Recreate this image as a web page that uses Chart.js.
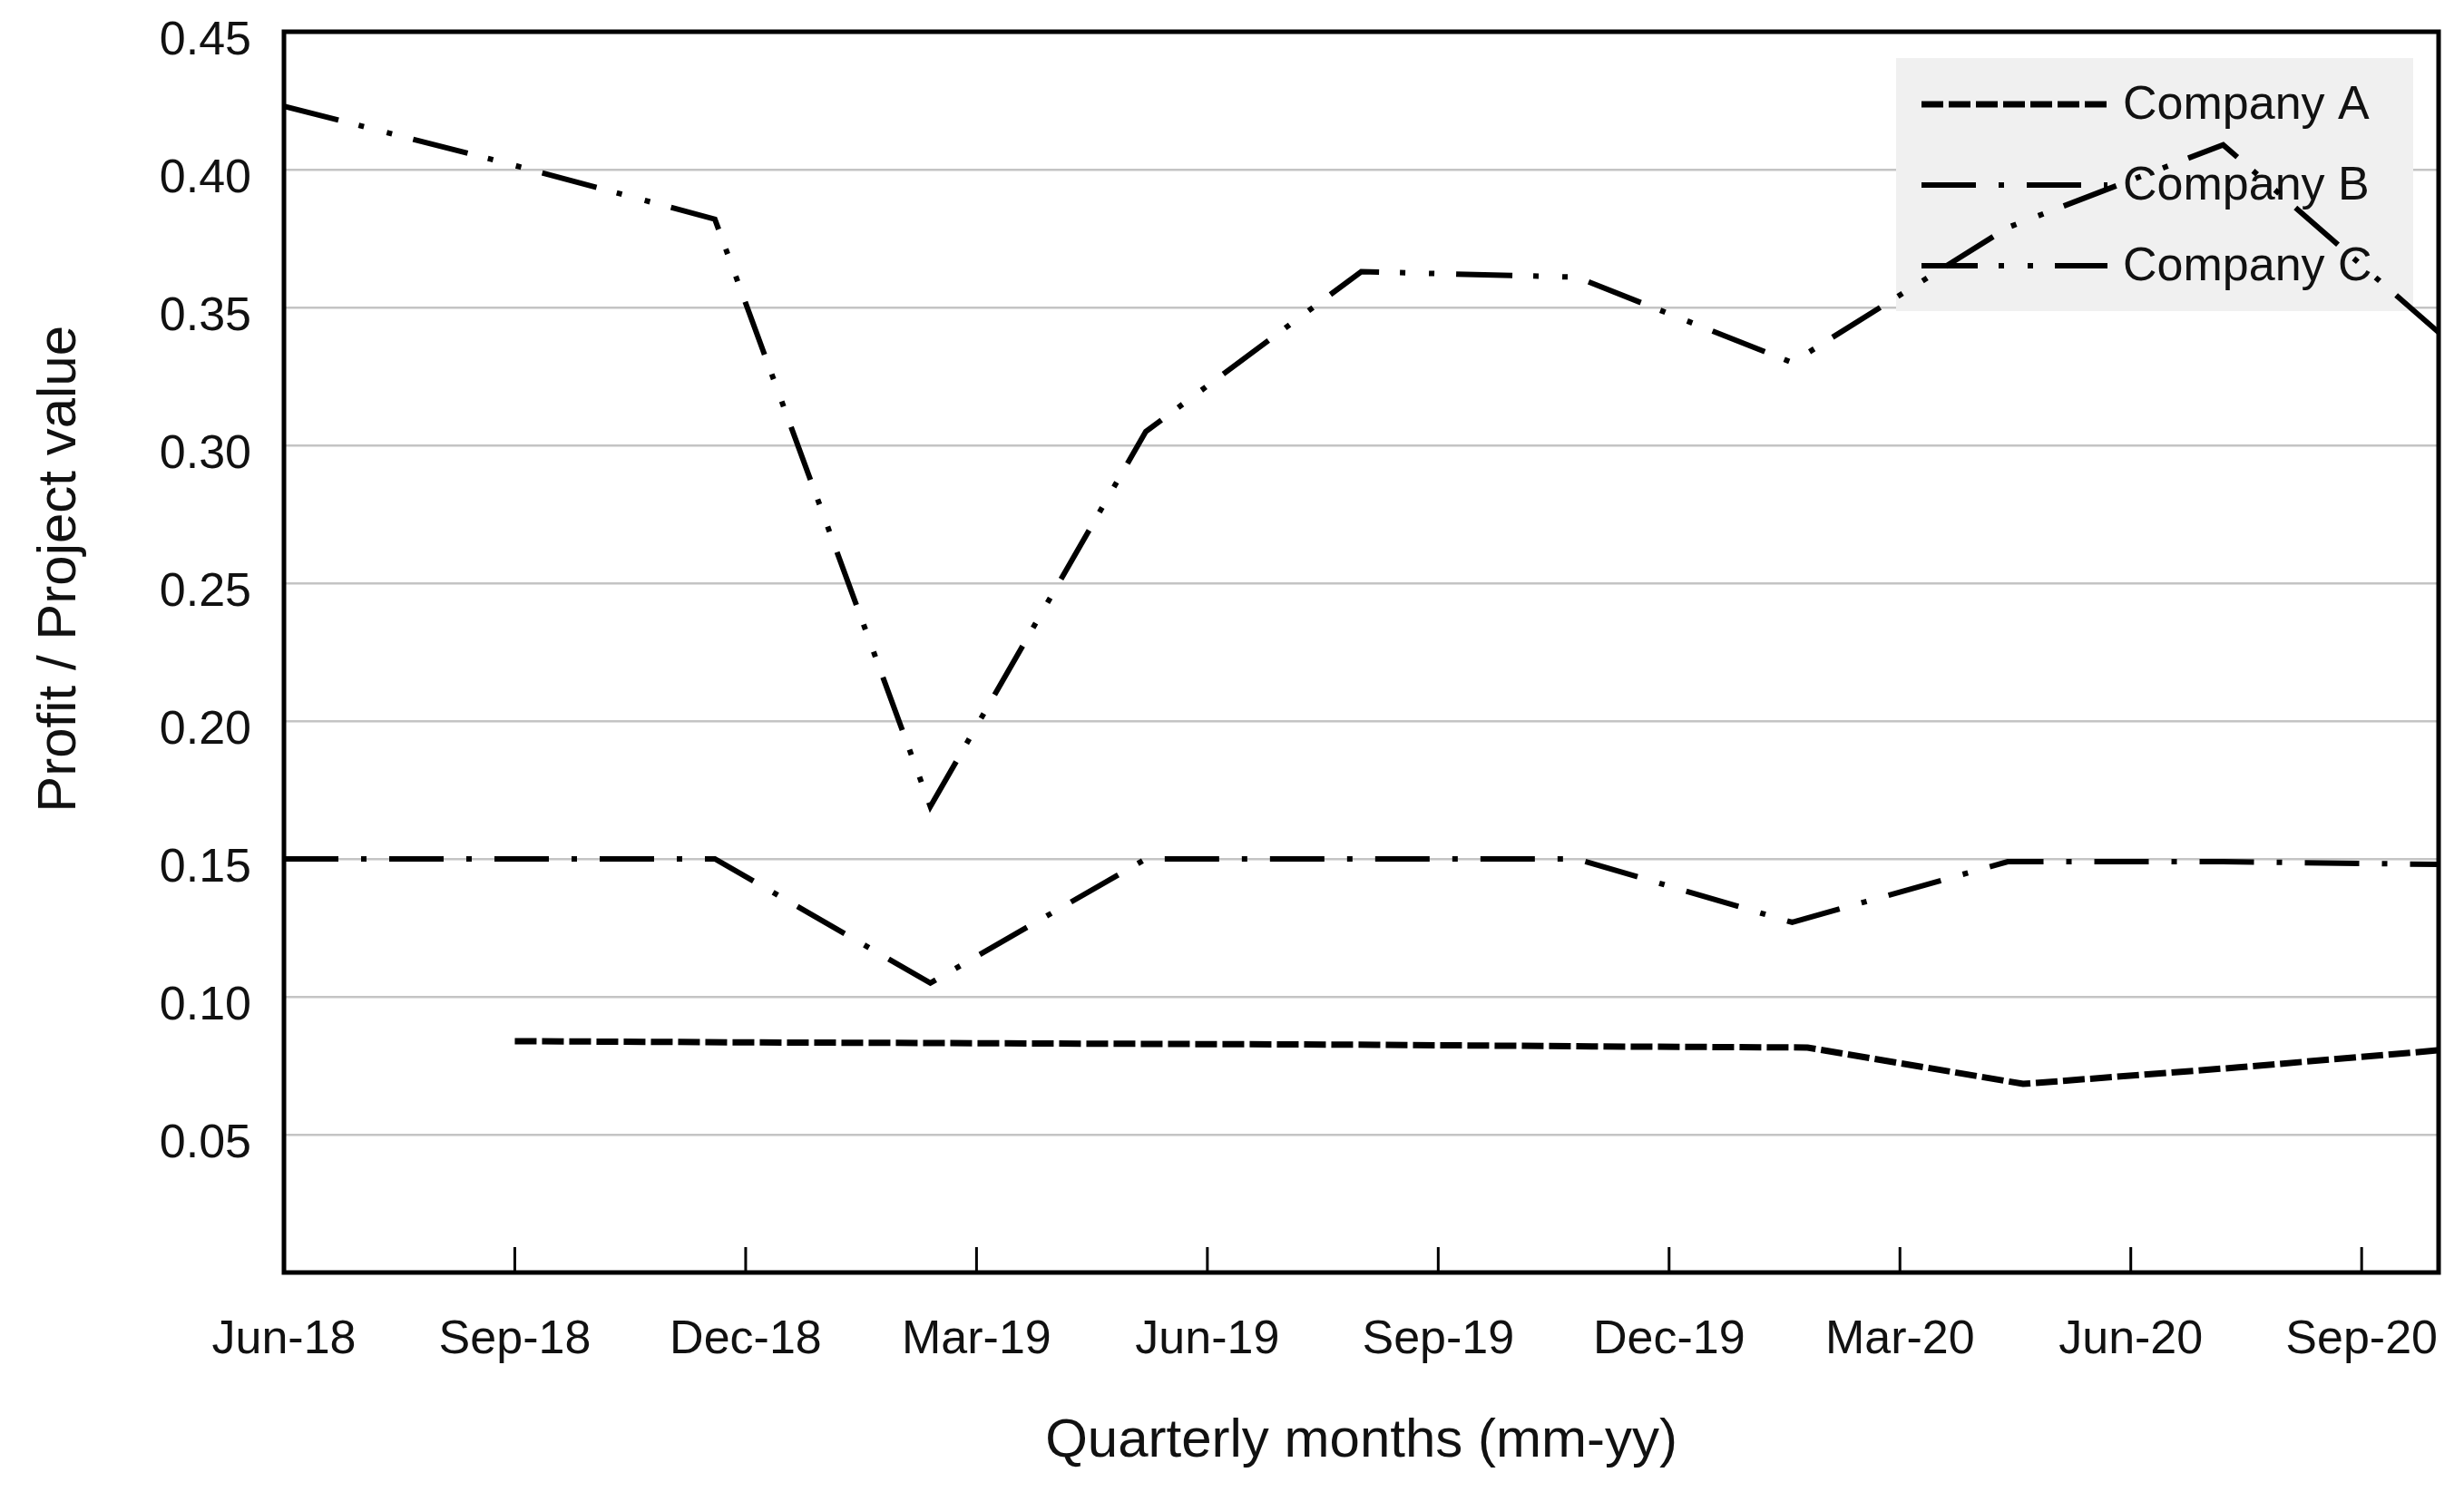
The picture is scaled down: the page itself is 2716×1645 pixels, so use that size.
<!DOCTYPE html>
<html>
<head>
<meta charset="utf-8">
<title>Profit / Project value</title>
<script src="https://cdn.jsdelivr.net/npm/chart.js@4.4.1/dist/chart.umd.min.js"></script>
<style>
  html, body { margin: 0; padding: 0; background: #ffffff; }
  canvas { display: block; }
</style>
</head>
<body>
<canvas id="grafico" width="2716" height="1645"></canvas>
<script>
// DADOS (meses contados a partir de Jun-18)
const tickMonths = [0, 3, 6, 9, 12, 15, 18, 21, 24, 27];
const tickLabels = ['Jun-18', 'Sep-18', 'Dec-18', 'Mar-19', 'Jun-19', 'Sep-19', 'Dec-19', 'Mar-20', 'Jun-20', 'Sep-20'];

const monthsA = [3, 5.8, 8.6, 11.4, 14.2, 17, 19.8, 22.6, 25.4, 28];
const monthsBC = [0, 2.8, 5.6, 8.4, 11.2, 14, 16.8, 19.6, 22.4, 25.2, 28];

const companyA = [0.0839, 0.0835, 0.0832, 0.0829, 0.0826, 0.0820, 0.0816, 0.0684, 0.0744, 0.0806];
const companyB = [0.150, 0.150, 0.150, 0.105, 0.150, 0.150, 0.150, 0.127, 0.149, 0.149, 0.148];
const companyC = [0.423, 0.403, 0.382, 0.169, 0.305, 0.363, 0.361, 0.330, 0.379, 0.409, 0.341];

const seriesLabels = ['Company A', 'Company B', 'Company C'];
const yTitle = 'Profit / Project value';
const xTitle = 'Quarterly months (mm-yy)';

// FONTES
Chart.defaults.font.family = '"Liberation Sans", Arial, sans-serif';
Chart.defaults.color = '#111111';

function pontos(meses, valores) {
  return meses.map((m, i) => ({ x: m, y: valores[i] }));
}

// LEGENDA (caixa cinza dentro da area do grafico, por baixo das linhas)
const legendaCaixa = {
  id: 'legendaCaixa',
  beforeDatasetsDraw(chart) {
    const { ctx, chartArea } = chart;
    const w = 570, h = 279;
    const left = chartArea.right - 28 - w;
    const top = chartArea.top + 29;

    ctx.save();
    ctx.fillStyle = '#f0f0f0';
    ctx.fillRect(left, top, w, h);

    chart.data.datasets.forEach((ds, i) => {
      const y = top + 51 + i * 89;
      ctx.strokeStyle = ds.borderColor;
      ctx.lineWidth = ds.borderWidth;
      ctx.lineCap = 'butt';
      ctx.setLineDash(ds.borderDash);
      ctx.beginPath();
      ctx.moveTo(left + 28, y);
      ctx.lineTo(left + 233, y);
      ctx.stroke();

      ctx.setLineDash([]);
      ctx.fillStyle = '#111111';
      ctx.font = '52px "Liberation Sans", Arial, sans-serif';
      ctx.textAlign = 'left';
      ctx.textBaseline = 'middle';
      ctx.fillText(ds.label, left + 250, y + 2);
    });
    ctx.restore();
  }
};

// MOLDURA E MARCAS DO EIXO X (para dentro)
const moldura = {
  id: 'moldura',
  afterDatasetsDraw(chart) {
    const { ctx, chartArea, scales } = chart;
    ctx.save();
    ctx.strokeStyle = '#000000';

    ctx.lineWidth = 3;
    scales.x.ticks.forEach(t => {
      if (t.value === scales.x.min) return;
      const px = scales.x.getPixelForValue(t.value);
      ctx.beginPath();
      ctx.moveTo(px, chartArea.bottom);
      ctx.lineTo(px, chartArea.bottom - 28);
      ctx.stroke();
    });

    ctx.lineWidth = 5;
    ctx.strokeRect(chartArea.left, chartArea.top, chartArea.right - chartArea.left, chartArea.bottom - chartArea.top);
    ctx.restore();
  }
};

// TITULO DO EIXO Y
const tituloY = {
  id: 'tituloY',
  afterDraw(chart) {
    const { ctx, chartArea } = chart;
    ctx.save();
    ctx.translate(66, chartArea.top + (chartArea.bottom - chartArea.top) * 0.433);
    ctx.rotate(-Math.PI / 2);
    ctx.fillStyle = '#111111';
    ctx.font = '60px "Liberation Sans", Arial, sans-serif';
    ctx.textAlign = 'center';
    ctx.textBaseline = 'middle';
    ctx.fillText(yTitle, 0, 0);
    ctx.restore();
  }
};

const linhaBase = {
  borderColor: '#000000',
  pointRadius: 0,
  tension: 0,
  fill: false,
  borderCapStyle: 'butt'
};

new Chart(document.getElementById('grafico'), {
  type: 'line',
  data: {
    datasets: [
      { ...linhaBase, label: seriesLabels[0], data: pontos(monthsA, companyA), borderWidth: 7, borderDash: [24, 6] },
      { ...linhaBase, label: seriesLabels[1], data: pontos(monthsBC, companyB), borderWidth: 6, borderDash: [60, 25, 6, 25] },
      { ...linhaBase, label: seriesLabels[2], data: pontos(monthsBC, companyC), borderWidth: 6, borderDash: [62, 23, 6, 26, 6, 24] }
    ]
  },
  options: {
    responsive: false,
    animation: false,
    layout: { padding: { top: 35, right: 28, left: 0, bottom: 0 } },
    plugins: {
      legend: { display: false },
      tooltip: { enabled: false }
    },
    scales: {
      x: {
        type: 'linear',
        min: 0,
        max: 28,
        afterBuildTicks: s => { s.ticks = tickMonths.map(v => ({ value: v })); },
        afterFit: s => {
          s.height = 242;
          s.paddingLeft = 0;
          s.paddingRight = 0;
        },
        ticks: {
          autoSkip: false,
          maxRotation: 0,
          padding: 43,
          font: { size: 52 },
          callback: (v, i) => tickLabels[i]
        },
        grid: { display: false, drawTicks: false },
        border: { display: false },
        title: {
          display: true,
          text: xTitle,
          font: { size: 60 },
          padding: { top: 0, bottom: 20 }
        }
      },
      y: {
        min: 0,
        max: 0.45,
        afterFit: s => {
          s.width = 313;
          s.paddingTop = 0;
          s.paddingBottom = 0;
        },
        ticks: {
          stepSize: 0.05,
          padding: 36,
          labelOffset: 11,
          font: { size: 52 },
          callback: v => (v === 0 ? '' : v.toFixed(2))
        },
        grid: { color: '#c4c4c4', lineWidth: 2.5, drawTicks: false },
        border: { display: false }
      }
    }
  },
  plugins: [legendaCaixa, moldura, tituloY]
});
</script>
</body>
</html>
